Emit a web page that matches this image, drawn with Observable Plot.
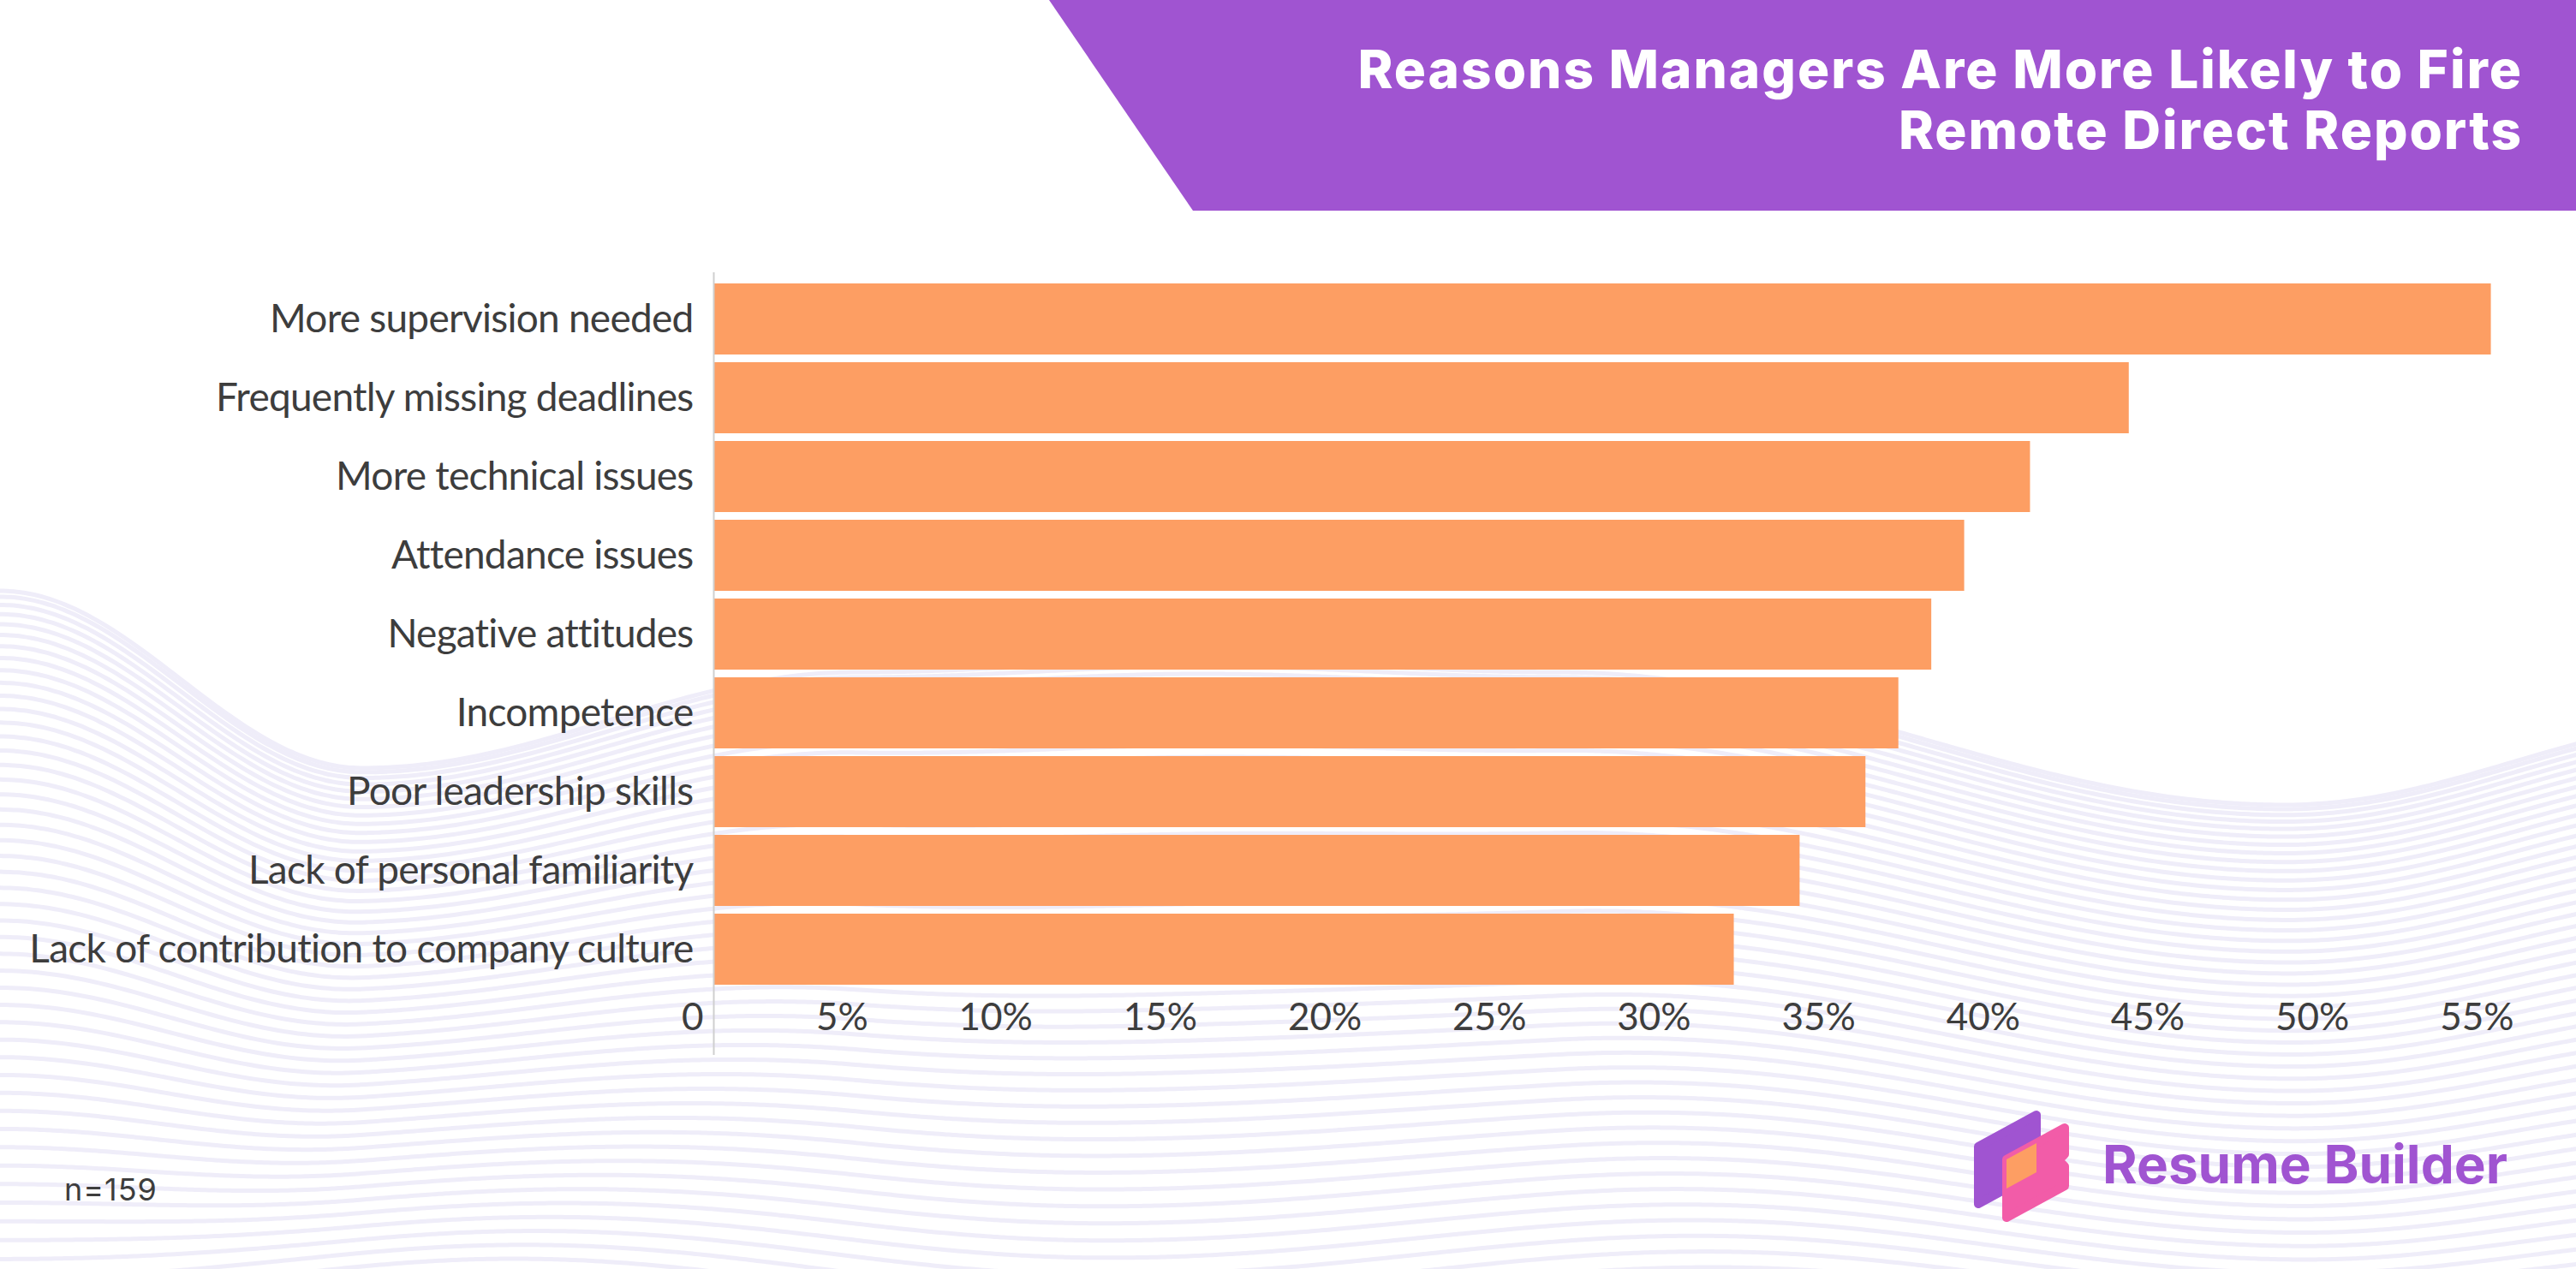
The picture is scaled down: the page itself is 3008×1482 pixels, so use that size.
<!DOCTYPE html>
<html>
<head>
<meta charset="utf-8">
<script src="https://cdn.jsdelivr.net/npm/d3@7"></script>
<script src="https://cdn.jsdelivr.net/npm/@observablehq/plot@0.6"></script>
<style>
  html, body { margin: 0; padding: 0; background: #fff; }
  #page { position: relative; width: 3008px; height: 1482px; overflow: hidden; background: #fff; }
  #page > svg, #chart { position: absolute; left: 0; top: 0; }
  #chart svg { display: block; }
  .reason-labels text { letter-spacing: -0.75px; }
</style>
</head>
<body>
<div id="page">
  <svg id="backdrop" width="3008" height="1482"></svg>
  <svg id="banner" width="3008" height="260">
    <polygon points="1225,0 3008,0 3008,246 1393,246" fill="#A054D1"></polygon>
    <g fill="#fff" font-family="Inter" font-weight="800" font-size="62" letter-spacing="2" text-anchor="end">
      <text x="2946" y="103">Reasons Managers Are More Likely to Fire</text>
      <text x="2946" y="174">Remote Direct Reports</text>
    </g>
  </svg>
  <div id="chart"></div>
  <svg id="footer" width="3008" height="1482">
    <defs>
      <clipPath id="purpleClip">
        <path d="M2310,1339 L2378,1302 L2378,1369 L2310,1406 Z"></path>
      </clipPath>
    </defs>
    <g stroke-linejoin="round" stroke-width="10">
      <path d="M2310,1339 L2378,1302 L2378,1369 L2310,1406 Z" fill="#A054D1" stroke="#A054D1"></path>
      <path d="M2343,1354 L2411,1317 L2411,1348 L2404,1355 L2411,1362 L2411,1385 L2343,1422 Z" fill="#F25CA8" stroke="#F25CA8"></path>
      <path d="M2343,1354 L2411,1317 L2411,1385 L2343,1422 Z" fill="#FD9E63" clip-path="url(#purpleClip)"></path>
    </g>
    <text x="2455" y="1382" fill="#A054D1" font-family="Inter" font-weight="700" font-size="62">Resume Builder</text>
    <text x="75" y="1402" fill="#3d3d3d" font-family="Inter" font-weight="400" font-size="36" letter-spacing="1">n=159</text>
  </svg>
</div>
<script>
// Survey results: share of managers citing each reason
const reasons = [
  "More supervision needed",
  "Frequently missing deadlines",
  "More technical issues",
  "Attendance issues",
  "Negative attitudes",
  "Incompetence",
  "Poor leadership skills",
  "Lack of personal familiarity",
  "Lack of contribution to company culture"
];
const shares = [54, 43, 40, 38, 37, 36, 35, 33, 31];
const xTicks = [0, 5, 10, 15, 20, 25, 30, 35, 40, 45, 50, 55];
const tickLabels = ["0", "5%", "10%", "15%", "20%", "25%", "30%", "35%", "40%", "45%", "50%", "55%"];

const rows = reasons.map((reason, i) => ({reason, share: shares[i]}));
const ticks = xTicks.map((value, i) => ({value, label: tickLabels[i]}));

const W = 3008;

// Soft lavender wave texture behind the chart: a blend of lines between two guide curves
const topGuide = [[-200, 640], [0, 690], [423, 897], [1000, 785], [1400, 772], [1820, 785], [2668, 940], [3200, 840]];
const bottomGuide = [[-200, 1500], [0, 1515], [600, 1470], [1300, 1530], [2000, 1480], [2700, 1535], [3200, 1500]];

function guideAt(guide, x) {
  for (let i = 0; i < guide.length - 1; i++) {
    const [x0, y0] = guide[i], [x1, y1] = guide[i + 1];
    if (x >= x0 && x <= x1) {
      const t = (x - x0) / (x1 - x0);
      const s = (1 - Math.cos(Math.PI * t)) / 2;
      return y0 + (y1 - y0) * s;
    }
  }
  return guide[guide.length - 1][1];
}

(function drawBackdrop() {
  const svg = d3.select("#backdrop");
  const lineCount = 46;
  const xs = d3.range(-20, W + 21, 8);
  const line = d3.line().curve(d3.curveBasis);
  for (let k = 0; k <= lineCount; k++) {
    const t = Math.pow(k / lineCount, 1.25);
    const pts = xs.map(x => [x, guideAt(topGuide, x) * (1 - t) + guideAt(bottomGuide, x) * t]);
    svg.append("path")
      .attr("d", line(pts))
      .attr("fill", "none")
      .attr("stroke", "#EFEDF9")
      .attr("stroke-width", 5);
  }
})();

const chart = Plot.plot({
  width: W,
  height: 1300,
  marginLeft: 833,
  marginRight: 61,
  marginTop: 318,
  marginBottom: 68,
  style: {background: "transparent", fontFamily: "Lato", color: "#3d3d3d", overflow: "visible"},
  x: {domain: [0, 55], axis: null},
  y: {domain: reasons, range: [322.6, 1158.7], paddingInner: 0.1, paddingOuter: 0.05, label: null},
  marks: [
    Plot.barX(rows, {x: "share", y: "reason", fill: "#FD9E63"}),
    Plot.ruleX([0], {stroke: "#cfcfcf", strokeWidth: 2}),
    Plot.axisY({tickSize: 0, tickPadding: 24, fontSize: 46, fill: "#3d3d3d", label: null, className: "reason-labels"}),
    Plot.text(ticks, {
      x: "value",
      text: "label",
      frameAnchor: "bottom",
      dy: -30,
      dx: -12,
      textAnchor: "end",
      fontSize: 44,
      fill: "#3d3d3d"
    })
  ]
});
document.getElementById("chart").appendChild(chart);
</script>
</body>
</html>
